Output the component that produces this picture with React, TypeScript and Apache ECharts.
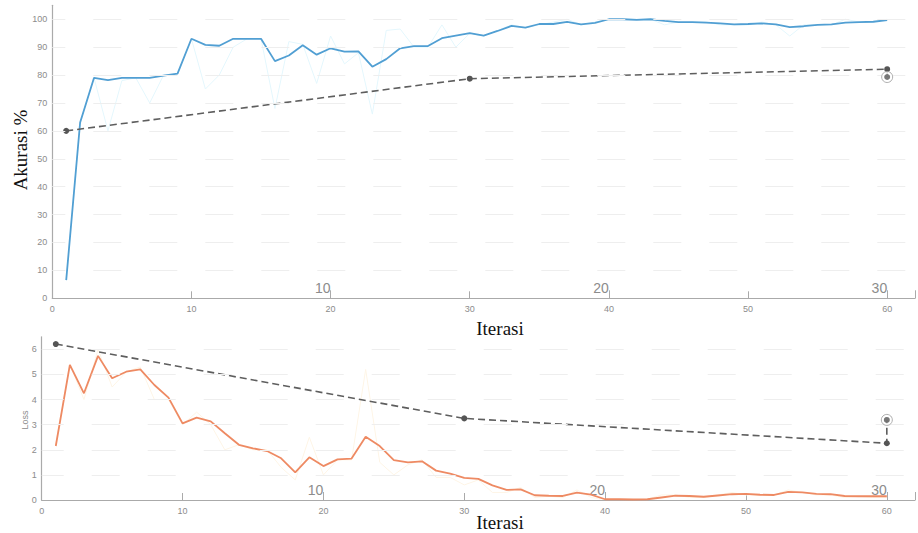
import React, { useEffect, useRef } from "react";
import * as echarts from "echarts";

// ---- data ----
const accSmooth = [
  6.5, 63, 79, 78.2, 79, 79, 79, 79.8, 80.5, 93,
  90.8, 90.5, 93, 93, 93, 85, 87, 90.7, 87.3, 89.6,
  88.4, 88.5, 83, 85.7, 89.6, 90.4, 90.4, 93.2, 94.1, 95,
  94.1, 95.8, 97.6, 97, 98.3, 98.3, 99.1, 98.2, 98.7, 100,
  100, 99.8, 100, 99.4, 99, 99, 98.8, 98.5, 98.2, 98.3,
  98.5, 98.2, 97.2, 97.5, 98, 98.2, 98.8, 99, 99.1, 99.7,
];
const accRaw = [
  6.5, 63, 79, 60, 78, 79, 70, 80, 80.5, 93,
  75, 80, 90, 93, 93, 68, 92, 91, 77, 94,
  84, 88, 66, 96, 96.5, 90, 90, 98, 90, 95,
  94, 96, 98, 97, 98, 99, 100, 98, 99, 100,
  100, 100, 100, 98, 99, 99, 99, 98, 98, 98,
  99, 98, 94, 98, 98, 98, 100, 99, 99, 100,
];
const valIters = [1, 30, 60];
const valAcc = [60, 78.7, 82.1];
const finalValAcc = 79.3;

const lossSmooth = [
  2.15, 5.38, 4.25, 5.74, 4.85, 5.11, 5.2, 4.58, 4.08, 3.05,
  3.28, 3.13, 2.66, 2.2, 2.06, 1.95, 1.66, 1.1, 1.7, 1.35,
  1.62, 1.65, 2.52, 2.15, 1.59, 1.5, 1.54, 1.17, 1.05, 0.88,
  0.84, 0.58, 0.4, 0.42, 0.19, 0.17, 0.16, 0.29, 0.21, 0.03,
  0.03, 0.02, 0.03, 0.1, 0.17, 0.16, 0.13, 0.18, 0.23, 0.24,
  0.21, 0.2, 0.32, 0.3, 0.24, 0.23, 0.16, 0.15, 0.15, 0.15,
];
const lossRaw = [
  2.2, 5.4, 4.0, 6.0, 4.5, 5.1, 5.3, 4.0, 4.0, 3.0,
  3.5, 3.0, 2.0, 2.2, 2.0, 2.0, 1.3, 0.8, 2.5, 1.0,
  1.6, 1.6, 5.2, 1.5, 1.0, 1.4, 1.6, 0.9, 0.9, 0.6,
  0.8, 0.3, 0.3, 0.5, 0.1, 0.15, 0.1, 0.4, 0.1, 0.02,
  0.03, 0.02, 0.03, 0.2, 0.2, 0.1, 0.1, 0.2, 0.3, 0.2,
  0.2, 0.2, 0.4, 0.3, 0.2, 0.2, 0.1, 0.15, 0.1, 0.1,
];
const valLoss = [6.21, 3.25, 2.26];
const finalValLoss = 3.19;

const epochIters = [20, 40, 60];
const epochLabels = ["10", "20", "30"];
const accGridTicks = [10, 20, 30, 40, 50, 60, 70, 80, 90, 100];
const lossGridTicks = [1, 2, 3, 4, 5, 6];

const SANS = "'Liberation Sans', Arial, sans-serif";
const SERIF = "'Liberation Serif', 'Times New Roman', serif";
const AX = "#aaaaaa";
const LBL = "#8c8c8c";

const withIter = (arr: number[]) => arr.map((v, i) => [i + 1, v]);

function iterAxis(gridIndex: number, margin: number) {
  return {
    type: "value",
    gridIndex,
    min: 0,
    max: 62,
    interval: 10,
    axisLine: { show: true, lineStyle: { color: AX, width: 1.2 } },
    axisTick: { show: true, inside: true, length: 7, lineStyle: { color: AX } },
    axisLabel: {
      show: true,
      color: LBL,
      fontSize: 9,
      fontFamily: SANS,
      margin,
      showMaxLabel: false,
      formatter: (v: number) => (v <= 60 ? String(v) : ""),
    },
    splitLine: { show: false },
  };
}

function epochAxis(gridIndex: number) {
  return {
    type: "value",
    gridIndex,
    position: "bottom",
    min: 0,
    max: 62,
    interval: 20,
    axisLine: { show: false },
    axisTick: { show: true, inside: true, length: 8, lineStyle: { color: AX } },
    axisLabel: {
      show: true,
      inside: true,
      color: LBL,
      fontSize: 14,
      fontFamily: SANS,
      margin: 3,
      align: "right",
      showMinLabel: false,
      showMaxLabel: true,
      formatter: (v: number) => {
        const k = epochIters.indexOf(v);
        return k >= 0 ? epochLabels[k] : "";
      },
    },
    splitLine: { show: false },
  };
}

function gridSeries(xi: number, vals: number[], offset: number) {
  return {
    type: "line",
    xAxisIndex: xi,
    yAxisIndex: xi === 0 ? 0 : 1,
    data: [],
    silent: true,
    markLine: {
      silent: true,
      symbol: "none",
      label: { show: false },
      lineStyle: { color: "#eeeeee", width: 1, type: [28, 28], dashOffset: offset },
      data: vals.map((v) => ({ yAxis: v })),
    },
  };
}

export default function App() {
  const ref = useRef<HTMLDivElement>(null);
  useEffect(() => {
    document.body.style.margin = "0";
    if (!ref.current) return;
    const chart = echarts.init(ref.current, undefined, { renderer: "svg" });
    const valAccData: any[] = valIters.map((x, i) => [x, valAcc[i]]);
    valAccData.push({ value: [60, finalValAcc], symbol: "none" });
    const valLossData: any[] = valIters.map((x, i) => [x, valLoss[i]]);
    valLossData.push({ value: [60, finalValLoss], symbol: "none" });

    chart.setOption({
      animation: false,
      backgroundColor: "#ffffff",
      grid: [
        { left: 52.3, right: 0, top: 5.3, height: 293 },
        { left: 41.7, right: 0, top: 336.8, height: 163.2 },
      ],
      xAxis: [iterAxis(0, 6), iterAxis(1, 6), epochAxis(0), epochAxis(1)],
      yAxis: [
        {
          type: "value",
          gridIndex: 0,
          min: 0,
          max: 105,
          interval: 10,
          axisLine: { show: true, lineStyle: { color: AX, width: 1.2 } },
          axisTick: { show: true, inside: true, length: 7, lineStyle: { color: AX } },
          axisLabel: { color: LBL, fontSize: 9, fontFamily: SANS, margin: 5, showMaxLabel: false },
          splitLine: { show: false },
        },
        {
          type: "value",
          gridIndex: 1,
          min: 0,
          max: 6.5,
          interval: 1,
          axisLine: { show: true, lineStyle: { color: AX, width: 1.2 } },
          axisTick: { show: true, inside: true, length: 7, lineStyle: { color: AX } },
          axisLabel: { color: LBL, fontSize: 9, fontFamily: SANS, margin: 5, showMaxLabel: false },
          splitLine: { show: false },
        },
      ],
      graphic: [
        {
          type: "text",
          x: 20,
          y: 150,
          rotation: Math.PI / 2,
          style: { text: "Akurasi %", font: `19px ${SERIF}`, fill: "#111", align: "center", verticalAlign: "middle" },
        },
        {
          type: "text",
          x: 500,
          y: 328,
          style: { text: "Iterasi", font: `19px ${SERIF}`, fill: "#111", align: "center", verticalAlign: "middle" },
        },
        {
          type: "text",
          x: 500,
          y: 522,
          style: { text: "Iterasi", font: `19px ${SERIF}`, fill: "#111", align: "center", verticalAlign: "middle" },
        },
        {
          type: "text",
          x: 25,
          y: 420,
          rotation: Math.PI / 2,
          style: { text: "Loss", font: `9px ${SANS}`, fill: LBL, align: "center", verticalAlign: "middle" },
        },
      ],
      series: [
        gridSeries(0, accGridTicks, 15),
        gridSeries(1, lossGridTicks, 6),
        {
          type: "line",
          xAxisIndex: 0,
          yAxisIndex: 0,
          data: withIter(accRaw),
          symbol: "none",
          lineStyle: { color: "#e4f7fd", width: 1 },
          z: 1,
        },
        {
          type: "line",
          xAxisIndex: 0,
          yAxisIndex: 0,
          data: withIter(accSmooth),
          symbol: "none",
          lineStyle: { color: "#519fd3", width: 1.8 },
          z: 3,
        },
        {
          type: "line",
          xAxisIndex: 0,
          yAxisIndex: 0,
          data: valAccData,
          symbol: "circle",
          symbolSize: 6,
          itemStyle: { color: "#555555" },
          lineStyle: { color: "#5e5e5e", width: 1.6, type: [7, 4] },
          z: 4,
        },
        {
          type: "scatter",
          xAxisIndex: 0,
          yAxisIndex: 0,
          data: [[60, finalValAcc]],
          symbolSize: 11,
          itemStyle: { color: "#ffffff", borderColor: "#9a9a9a", borderWidth: 1 },
          z: 5,
        },
        {
          type: "scatter",
          xAxisIndex: 0,
          yAxisIndex: 0,
          data: [[60, finalValAcc]],
          symbolSize: 6,
          itemStyle: { color: "#555555" },
          z: 6,
        },
        {
          type: "line",
          xAxisIndex: 1,
          yAxisIndex: 1,
          data: withIter(lossRaw),
          symbol: "none",
          lineStyle: { color: "#fef5e6", width: 1 },
          z: 1,
        },
        {
          type: "line",
          xAxisIndex: 1,
          yAxisIndex: 1,
          data: withIter(lossSmooth),
          symbol: "none",
          lineStyle: { color: "#ee8a63", width: 1.8 },
          z: 3,
        },
        {
          type: "line",
          xAxisIndex: 1,
          yAxisIndex: 1,
          data: valLossData,
          symbol: "circle",
          symbolSize: 6,
          itemStyle: { color: "#555555" },
          lineStyle: { color: "#5e5e5e", width: 1.6, type: [7, 4] },
          z: 4,
        },
        {
          type: "scatter",
          xAxisIndex: 1,
          yAxisIndex: 1,
          data: [[60, finalValLoss]],
          symbolSize: 11,
          itemStyle: { color: "#ffffff", borderColor: "#9a9a9a", borderWidth: 1 },
          z: 5,
        },
        {
          type: "scatter",
          xAxisIndex: 1,
          yAxisIndex: 1,
          data: [[60, finalValLoss]],
          symbolSize: 6,
          itemStyle: { color: "#555555" },
          z: 6,
        },
      ],
    });
    return () => chart.dispose();
  }, []);
  return <div ref={ref} style={{ width: 918, height: 533 }} />;
}
